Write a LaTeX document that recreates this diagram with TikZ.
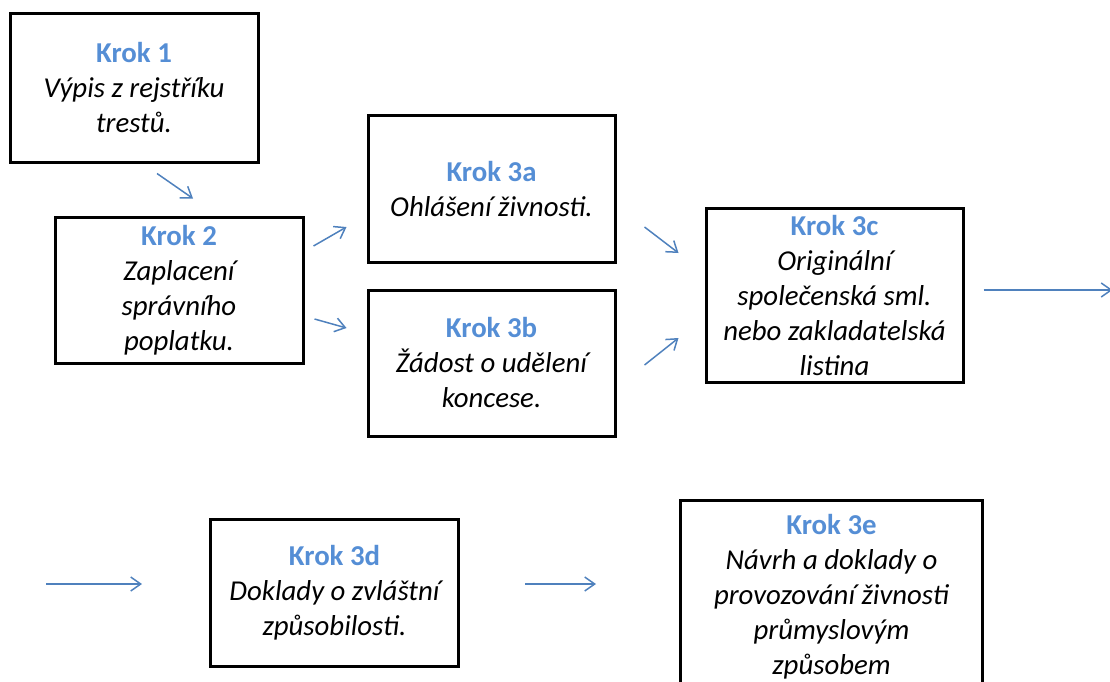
\documentclass[tikz,border=0pt]{standalone}
\usepackage{fontspec}
\setmainfont{Carlito}
\usepackage{tikz}
\usetikzlibrary{positioning,arrows.meta}
\definecolor{krokblue}{HTML}{558ED5}
\definecolor{arrblue}{HTML}{4F81BD}
\newcommand{\krokhead}[1]{{\upshape\bfseries\color{krokblue}#1}}

\begin{document}
\begin{tikzpicture}[x=1pt,y=-1pt,
main/.style = {draw, line width=3pt, align=center, inner sep=0pt, minimum width=248pt, minimum height=147pt, font=\fontsize{28.8}{35}\selectfont\itshape},
arr/.style = {arrblue, line width=1.5pt, -{Straight Barb[length=10pt,width=14pt]}}]
\useasboundingbox (0,0) rectangle (1110,682);
\node[main] (1) at (134,88) [minimum height=148pt] {\krokhead{Krok 1}\\Výpis z rejstříku\\trestů.};
\node[main] (2) [below=52pt of 1, xshift=45pt, minimum height=146pt] {\krokhead{Krok 2}\\Zaplacení\\správního\\poplatku.};
\node[main] (3a) [right=62pt of 2, yshift=101pt, minimum width=247pt, minimum height=146pt] {\krokhead{Krok 3a}\\Ohlášení živnosti.};
\node[main] (3b) [below=25pt of 3a, minimum width=247pt, minimum height=146pt] {\krokhead{Krok 3b}\\Žádost o udělení\\koncese.};
\node[main] (3c) [right=88pt of 3a, yshift=-106pt, minimum width=257pt, minimum height=174pt] {\krokhead{Krok 3c}\\Originální\\společenská sml.\\nebo zakladatelská\\listina};
\node[main] (3d) [below=153pt of 2, xshift=155.5pt] {\krokhead{Krok 3d}\\Doklady o zvláštní\\způsobilosti.};
\node[main] (3e) [right=219pt of 3d, yshift=-4.5pt, minimum width=302pt, minimum height=194pt] {\krokhead{Krok 3e}\\Návrh a doklady o\\provozování živnosti\\průmyslovým\\způsobem};
\coordinate (dal) at ([xshift=148pt,yshift=5pt]3c.east);
\coordinate (zpet) at ([xshift=-163pt,yshift=8.5pt]3d.west);
\draw[arr] ([xshift=23pt,yshift=-10pt]1.south) -- ([xshift=14pt,yshift=17pt]2.north);
\draw[arr] ([xshift=9pt,yshift=44pt]2.east) -- ([xshift=-20pt,yshift=-38pt]3a.west);
\draw[arr] ([xshift=10pt,yshift=-29pt]2.east) -- ([xshift=-20pt,yshift=35pt]3b.west);
\draw[arr] ([xshift=28pt,yshift=-38pt]3a.east) -- ([xshift=-26pt,yshift=42pt]3c.west);
\draw[arr] ([xshift=28pt,yshift=-2pt]3b.east) -- ([xshift=-26pt,yshift=-43pt]3c.west);
\draw[arr] ([xshift=19pt,yshift=5pt]3c.east) -- (dal);
\draw[arr] (zpet) -- ([xshift=-67pt,yshift=8.5pt]3d.west);
\draw[arr] ([xshift=65pt,yshift=8.5pt]3d.east) -- ([xshift=-83pt,yshift=13pt]3e.west);
\end{tikzpicture}
\end{document}
